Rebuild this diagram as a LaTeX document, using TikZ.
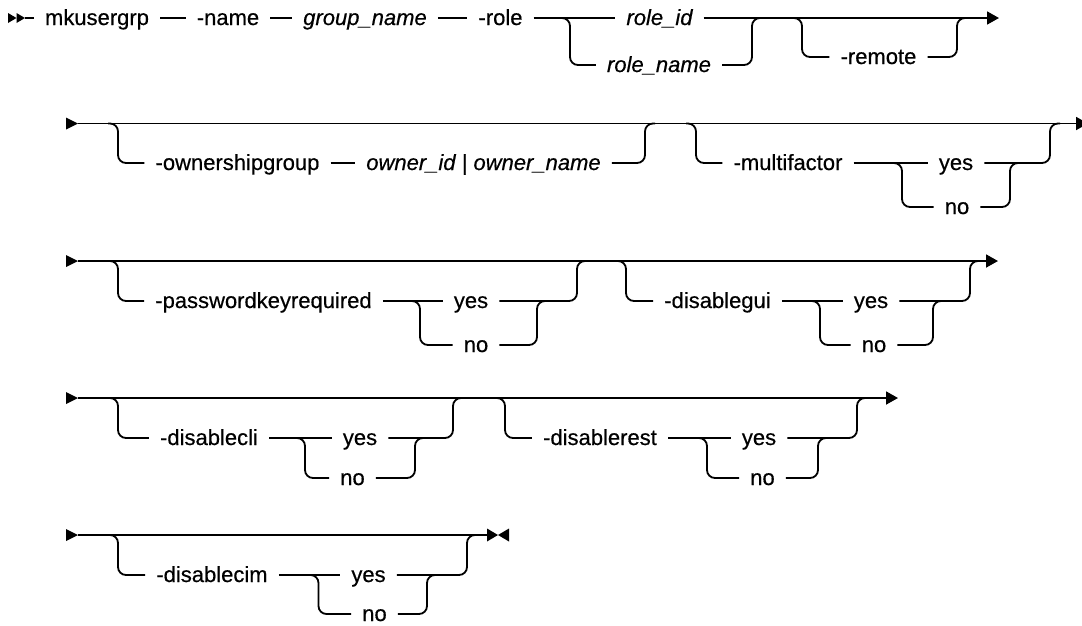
\documentclass[tikz,border=0pt]{standalone}
\usepackage{fontspec}
\setmainfont{Liberation Sans}[FakeBold=0.5]
\usetikzlibrary{arrows.meta}
\tikzset{
  lbl/.style={font=\fontsize{22}{26}\selectfont, inner xsep=11pt, inner ysep=0pt, text height=16pt, text depth=2pt},
  var/.style={lbl, font=\fontsize{22}{26}\selectfont\itshape},
  ln/.style={line width=1.8pt, rounded corners=8pt},
  endarrow/.style={-{Triangle[length=12pt,width=13pt]}},
}
\begin{document}
\begin{tikzpicture}[x=1pt,y=-1pt]
\useasboundingbox (0,0) rectangle (1082,625);

% ---------------- Row 1 ----------------
\fill (8,13) -- (16.5,18) -- (8,23) -- cycle;
\fill (16.5,13) -- (25,18) -- (16.5,23) -- cycle;
\coordinate (s1) at (25,18);
\coordinate (e1) at (999,18);
\node[lbl] (mk) at (97,18) {mkusergrp};
\node[lbl] (nm) at (228,18) {-name};
\node[var] (gn) at (365,18) {group\_name};
\node[lbl] (rl) at (500.5,18) {-role};
\node[var] (rid) at (659.5,18) {role\_id};
\node[var] (rnm) at (659,65) {role\_name};
\node[lbl] (rem) at (878.5,57) {-remote};
\coordinate (j1) at (570,18);
\coordinate (j2) at (752,18);
\coordinate (j3) at (802,18);
\coordinate (j4) at (957,18);
\draw[ln] (s1) -- (mk.west);
\draw[ln] (mk.east) -- (nm.west);
\draw[ln] (nm.east) -- (gn.west);
\draw[ln] (gn.east) -- (rl.west);
\draw[ln] (rl.east) -- (rid.west);
\draw[ln,endarrow] (rid.east) -- (e1);
\draw[ln] ([xshift=-10pt]j1) -- (j1) |- (rnm.west);
\draw[ln] (rnm.east) -| (j2) -- ([xshift=10pt]j2);
\draw[ln] ([xshift=-10pt]j3) -- (j3) |- (rem.west);
\draw[ln] (rem.east) -| (j4) -- ([xshift=10pt]j4);

% ---------------- Row 2 ----------------
\fill (66,117.5) -- (78,123.5) -- (66,129.5) -- cycle;
\coordinate (s2) at (78,123.5);
\coordinate (e2) at (1088,123.5);
\draw[ln,endarrow] (s2) -- (e2);
\node[lbl] (own) at (237.5,163) {-ownershipgroup};
\node[var] (oid) at (483.5,163) {owner\_id | owner\_name};
\coordinate (b2a) at (118,123.5);
\coordinate (b2b) at (645,123.5);
\draw[ln] ([xshift=-10pt]b2a) -- (b2a) |- (own.west);
\draw[ln] (own.east) -- (oid.west);
\draw[ln] (oid.east) -| (b2b) -- ([xshift=10pt]b2b);
\node[lbl] (mf) at (788,163) {-multifactor};
\node[lbl] (mfy) at (956,163) {yes};
\node[lbl] (mfn) at (957,207) {no};
\coordinate (b2c) at (696,123.5);
\coordinate (b2d) at (1050,123.5);
\coordinate (c2a) at (902,163);
\coordinate (c2b) at (1010,163);
\draw[ln] ([xshift=-10pt]b2c) -- (b2c) |- (mf.west);
\draw[ln] (mf.east) -- (mfy.west);
\draw[ln] ([xshift=-10pt]c2a) -- (c2a) |- (mfn.west);
\draw[ln] (mfn.east) -| (c2b) -- ([xshift=10pt]c2b);
\draw[ln] (mfy.east) -| (b2d) -- ([xshift=10pt]b2d);

% ---------------- Row 3 ----------------
\fill (66,255) -- (78,261) -- (66,267) -- cycle;
\coordinate (s3) at (78,261);
\coordinate (e3) at (998,261);
\draw[ln,endarrow] (s3) -- (e3);
\node[lbl] (pk) at (263.5,301) {-passwordkeyrequired};
\node[lbl] (pky) at (471,301) {yes};
\node[lbl] (pkn) at (476,345) {no};
\coordinate (b3a) at (118,261);
\coordinate (b3b) at (577,261);
\coordinate (c3a) at (420,301);
\coordinate (c3b) at (537,301);
\draw[ln] ([xshift=-10pt]b3a) -- (b3a) |- (pk.west);
\draw[ln] (pk.east) -- (pky.west);
\draw[ln] ([xshift=-10pt]c3a) -- (c3a) |- (pkn.west);
\draw[ln] (pkn.east) -| (c3b) -- ([xshift=10pt]c3b);
\draw[ln] (pky.east) -| (b3b) -- ([xshift=10pt]b3b);
\node[lbl] (dg) at (717.5,301) {-disablegui};
\node[lbl] (dgy) at (871,301) {yes};
\node[lbl] (dgn) at (874,345) {no};
\coordinate (b3c) at (626,261);
\coordinate (b3d) at (970,261);
\coordinate (c3c) at (820,301);
\coordinate (c3d) at (933,301);
\draw[ln] ([xshift=-10pt]b3c) -- (b3c) |- (dg.west);
\draw[ln] (dg.east) -- (dgy.west);
\draw[ln] ([xshift=-10pt]c3c) -- (c3c) |- (dgn.west);
\draw[ln] (dgn.east) -| (c3d) -- ([xshift=10pt]c3d);
\draw[ln] (dgy.east) -| (b3d) -- ([xshift=10pt]b3d);

% ---------------- Row 4 ----------------
\fill (66,392) -- (78,398) -- (66,404) -- cycle;
\coordinate (s4) at (78,398);
\coordinate (e4) at (898,398);
\draw[ln,endarrow] (s4) -- (e4);
\node[lbl] (dc) at (209,438) {-disablecli};
\node[lbl] (dcy) at (360,438) {yes};
\node[lbl] (dcn) at (352.5,478) {no};
\coordinate (b4a) at (118,398);
\coordinate (b4b) at (453,398);
\coordinate (c4a) at (305,438);
\coordinate (c4b) at (415,438);
\draw[ln] ([xshift=-10pt]b4a) -- (b4a) |- (dc.west);
\draw[ln] (dc.east) -- (dcy.west);
\draw[ln] ([xshift=-10pt]c4a) -- (c4a) |- (dcn.west);
\draw[ln] (dcn.east) -| (c4b) -- ([xshift=10pt]c4b);
\draw[ln] (dcy.east) -| (b4b) -- ([xshift=10pt]b4b);
\node[lbl] (dr) at (600,438) {-disablerest};
\node[lbl] (dry) at (759,438) {yes};
\node[lbl] (drn) at (762.5,478) {no};
\coordinate (b4c) at (505,398);
\coordinate (b4d) at (857,398);
\coordinate (c4c) at (707,438);
\coordinate (c4d) at (818,438);
\draw[ln] ([xshift=-10pt]b4c) -- (b4c) |- (dr.west);
\draw[ln] (dr.east) -- (dry.west);
\draw[ln] ([xshift=-10pt]c4c) -- (c4c) |- (drn.west);
\draw[ln] (drn.east) -| (c4d) -- ([xshift=10pt]c4d);
\draw[ln] (dry.east) -| (b4d) -- ([xshift=10pt]b4d);

% ---------------- Row 5 ----------------
\fill (66,529) -- (78,535) -- (66,541) -- cycle;
\coordinate (s5) at (78,535);
\coordinate (e5) at (487,535);
\draw[ln] (s5) -- (e5);
\fill (487,528.5) -- (498,535) -- (487,541.5) -- cycle;
\fill (509,528.5) -- (498,535) -- (509,541.5) -- cycle;
\node[lbl] (dm) at (212,575) {-disablecim};
\node[lbl] (dmy) at (368.5,575) {yes};
\node[lbl] (dmn) at (374.5,614) {no};
\coordinate (b5a) at (118,535);
\coordinate (b5b) at (467,535);
\coordinate (c5a) at (318.5,575);
\coordinate (c5b) at (427,575);
\draw[ln] ([xshift=-10pt]b5a) -- (b5a) |- (dm.west);
\draw[ln] (dm.east) -- (dmy.west);
\draw[ln] ([xshift=-10pt]c5a) -- (c5a) |- (dmn.west);
\draw[ln] (dmn.east) -| (c5b) -- ([xshift=10pt]c5b);
\draw[ln] (dmy.east) -| (b5b) -- ([xshift=10pt]b5b);
\end{tikzpicture}
\end{document}
